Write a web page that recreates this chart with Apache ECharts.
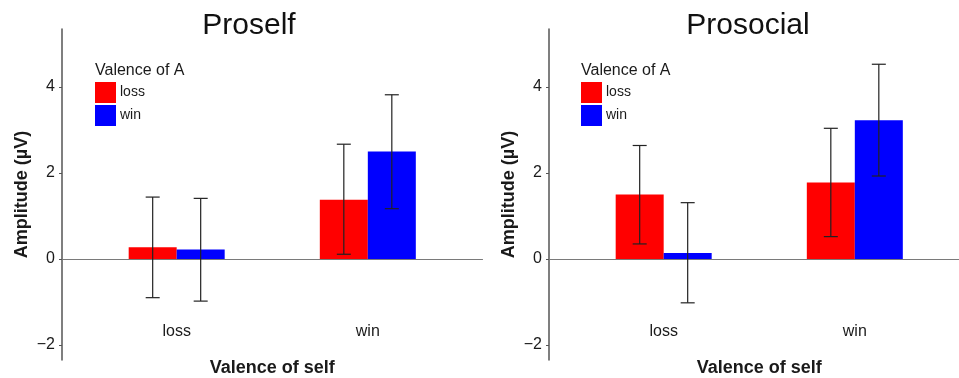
<!DOCTYPE html>
<html>
<head>
<meta charset="utf-8">
<script src="https://cdn.jsdelivr.net/npm/echarts@6/dist/echarts.min.js"></script>
<style>html,body{margin:0;padding:0;background:#fff;}#c{width:959px;height:378px;}</style>
</head>
<body>
<div id="c"></div>
<script>
// ---- data ----
const categories = ['loss', 'win'];
const catPos = [1, 2];
const yTicks = [-2, 0, 2, 4];
const panelTitles = ['Proself', 'Prosocial'];
const legendTitle = 'Valence of A';
const seriesNames = ['loss', 'win'];

const proselfLoss = [0.27, 1.38];
const proselfLossLow = [-0.90, 0.11];
const proselfLossHigh = [1.44, 2.67];
const proselfWin = [0.22, 2.50];
const proselfWinLow = [-0.98, 1.17];
const proselfWinHigh = [1.41, 3.82];

const prosocialLoss = [1.50, 1.78];
const prosocialLossLow = [0.35, 0.52];
const prosocialLossHigh = [2.64, 3.04];
const prosocialWin = [0.14, 3.23];
const prosocialWinLow = [-1.02, 1.93];
const prosocialWinHigh = [1.31, 4.53];

// ---- styles ----
const FONT = '"Liberation Sans", Arial, sans-serif';
const RED = '#ff0000', BLUE = '#0000ff';
const BAR_W = 48;
const CAP = 7;

const panels = [
  {loss: proselfLoss, lossLo: proselfLossLow, lossHi: proselfLossHigh,
   win: proselfWin, winLo: proselfWinLow, winHi: proselfWinHigh,
   gridLeft: 62, titleX: 249, legX: 95},
  {loss: prosocialLoss, lossLo: prosocialLossLow, lossHi: prosocialLossHigh,
   win: prosocialWin, winLo: prosocialWinLow, winHi: prosocialWinHigh,
   gridLeft: 549, titleX: 748, legX: 581}
];

const grids = [], xAxes = [], yAxes = [], series = [], titles = [], legends = [];

panels.forEach((p, i) => {
  grids.push({left: p.gridLeft, top: 29, width: 420.5, height: 331,
    containLabel: false, outerBoundsMode: 'none'});
  xAxes.push({
    type: 'value', gridIndex: i, min: 0.4, max: 2.6,
    name: 'Valence of self', nameLocation: 'middle', nameGap: -1,
    nameMoveOverlap: false,
    nameTextStyle: {fontFamily: FONT, fontSize: 18, fontWeight: 'bold', color: '#1a1a1a'},
    axisLine: {onZero: true, lineStyle: {color: '#7a7a7a', width: 1.2}},
    axisTick: {show: false},
    splitLine: {show: false},
    axisLabel: {
      customValues: catPos,
      formatter: v => categories[catPos.indexOf(v)] || '',
      fontFamily: FONT, fontSize: 16, color: '#1a1a1a', margin: -36
    }
  });
  yAxes.push({
    type: 'value', gridIndex: i, min: -2.35, max: 5.35,
    name: 'Amplitude (µV)', nameLocation: 'middle', nameGap: 31,
    nameMoveOverlap: false,
    nameTextStyle: {fontFamily: FONT, fontSize: 18, fontWeight: 'bold', color: '#1a1a1a'},
    axisLine: {show: true, onZero: false, lineStyle: {color: '#555', width: 1.5}},
    axisTick: {show: true, length: 3, customValues: yTicks, lineStyle: {color: '#555'}},
    splitLine: {show: false},
    axisLabel: {
      customValues: yTicks,
      formatter: v => String(v).replace('-', '\u2212'),
      fontFamily: FONT, fontSize: 16, color: '#1a1a1a', margin: 7
    }
  });
  titles.push({
    text: panelTitles[i], left: p.titleX, top: 11, textAlign: 'center', padding: 0,
    textStyle: {fontFamily: FONT, fontSize: 30, fontWeight: 'normal', color: '#111'}
  });
  titles.push({
    text: legendTitle, left: p.legX, top: 63, padding: 0,
    textStyle: {fontFamily: FONT, fontSize: 16, fontWeight: 'normal', color: '#1a1a1a'}
  });
  legends.push({
    data: seriesNames, orient: 'vertical', left: p.legX, top: 82,
    itemWidth: 21, itemHeight: 21, itemGap: 2, icon: 'rect', padding: 0,
    selectedMode: false,
    textStyle: {fontFamily: FONT, fontSize: 14, color: '#1a1a1a', padding: [0, 0, 0, -1]}
  });

  const groups = [
    {name: 'loss', vals: p.loss, lo: p.lossLo, hi: p.lossHi, color: RED, shift: -BAR_W / 2},
    {name: 'win', vals: p.win, lo: p.winLo, hi: p.winHi, color: BLUE, shift: BAR_W / 2}
  ];
  groups.forEach(g => {
    series.push({
      type: 'bar', name: g.name, xAxisIndex: i, yAxisIndex: i,
      barWidth: BAR_W, barGap: '0%',
      itemStyle: {color: g.color},
      emphasis: {disabled: true},
      data: catPos.map((x, k) => [x, g.vals[k]])
    });
  });
  groups.forEach(g => {
    series.push({
      type: 'custom', name: g.name + ' err', xAxisIndex: i, yAxisIndex: i, z: 10,
      silent: true,
      data: catPos.map((x, k) => [x, g.lo[k], g.hi[k]]),
      renderItem: (params, api) => {
        const lo = api.coord([api.value(0), api.value(1)]);
        const hi = api.coord([api.value(0), api.value(2)]);
        const cx = lo[0] + g.shift;
        const st = {stroke: '#222', lineWidth: 1.2};
        return {type: 'group', children: [
          {type: 'line', shape: {x1: cx, y1: lo[1], x2: cx, y2: hi[1]}, style: st},
          {type: 'line', shape: {x1: cx - CAP, y1: hi[1], x2: cx + CAP, y2: hi[1]}, style: st},
          {type: 'line', shape: {x1: cx - CAP, y1: lo[1], x2: cx + CAP, y2: lo[1]}, style: st}
        ]};
      }
    });
  });
});

const chart = echarts.init(document.getElementById('c'), null, {renderer: 'canvas'});
chart.setOption({
  animation: false,
  backgroundColor: '#fff',
  title: titles,
  legend: legends,
  grid: grids,
  xAxis: xAxes,
  yAxis: yAxes,
  series: series
});
</script>
</body>
</html>
